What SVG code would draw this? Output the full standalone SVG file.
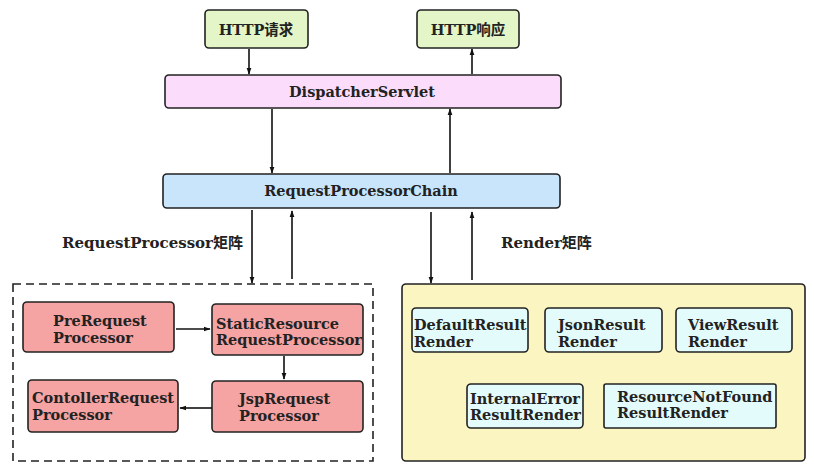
<svg xmlns="http://www.w3.org/2000/svg" width="814" height="468" viewBox="0 0 814 468">
<defs>
<marker id="ah" viewBox="0 0 10 10" refX="9" refY="5" markerWidth="7" markerHeight="7" orient="auto" markerUnits="userSpaceOnUse"><path d="M0,1.5 L10,5 L0,8.5 z" fill="#111"/></marker>
<style>
text{font-family:"DejaVu Serif","Liberation Serif","Noto Sans CJK SC",serif;font-weight:bold;fill:#222;font-size:14.5px}
.lbl{font-size:15px}
.box{stroke:#222;stroke-width:1.6}
.c{text-anchor:middle}
.green{fill:#e4f6c8}
.pink{fill:#fbdcfa}
.blue{fill:#c9e5fb}
.red{fill:#f5a3a3}
.cyan{fill:#e4fbfb}
.conn line{stroke:#111;stroke-width:1.6;marker-end:url(#ah)}
</style>
</defs>
<rect width="814" height="468" fill="#fff"/>
<g id="http-req"><rect class="box green" x="205" y="10" width="103" height="38" rx="4"/><text class="c" x="256" y="35">HTTP请求</text></g>
<g id="http-resp"><rect class="box green" x="417" y="10" width="102" height="38" rx="4"/><text class="c" x="468" y="35">HTTP响应</text></g>
<g id="dispatcher"><rect class="box pink" x="165" y="75" width="396" height="33" rx="4"/><text class="c" x="362" y="97">DispatcherServlet</text></g>
<g id="chain"><rect class="box blue" x="163" y="174" width="397" height="34" rx="4"/><text class="c" x="361" y="196">RequestProcessorChain</text></g>
<g id="label-rp"><text class="lbl" x="62" y="248">RequestProcessor矩阵</text></g>
<g id="label-render"><text class="lbl" x="501" y="248">Render矩阵</text></g>
<g id="processors"><rect x="13" y="284" width="360" height="177" fill="none" stroke="#222" stroke-width="1.6" stroke-dasharray="8,5"/></g>
<g id="pre"><rect class="box red" x="23" y="302" width="151" height="50" rx="4"/><text x="53" y="326">PreRequest</text><text x="53" y="343">Processor</text></g>
<g id="static"><rect class="box red" x="212" y="304" width="151" height="51" rx="4"/><text x="216" y="329">StaticResource</text><text x="216" y="345">RequestProcessor</text></g>
<g id="jsp"><rect class="box red" x="212" y="381" width="151" height="51" rx="4"/><text x="239" y="404">JspRequest</text><text x="239" y="421">Processor</text></g>
<g id="controller"><rect class="box red" x="28" y="380" width="150" height="52" rx="4"/><text x="32" y="403">ContollerRequest</text><text x="32" y="420">Processor</text></g>
<g id="renders"><rect x="402" y="284" width="403" height="177" rx="4" fill="#fbf5c1" stroke="#222" stroke-width="1.6"/></g>
<g id="default"><rect class="box cyan" x="412" y="308" width="116" height="44" rx="4"/><text x="414" y="330">DefaultResult</text><text x="414" y="347">Render</text></g>
<g id="json"><rect class="box cyan" x="545" y="308" width="117" height="44" rx="4"/><text x="558" y="330">JsonResult</text><text x="558" y="347">Render</text></g>
<g id="view"><rect class="box cyan" x="676" y="308" width="116" height="44" rx="4"/><text x="688" y="330">ViewResult</text><text x="688" y="347">Render</text></g>
<g id="internal"><rect class="box cyan" x="467" y="384" width="116" height="44" rx="4"/><text x="470" y="404">InternalError</text><text x="470" y="420">ResultRender</text></g>
<g id="notfound"><rect class="box cyan" x="604" y="384" width="172" height="44" rx="2"/><text x="617" y="402">ResourceNotFound</text><text x="617" y="418">ResultRender</text></g>
<g class="conn" id="connectors">
<line x1="249" y1="49" x2="249" y2="74"/>
<line x1="472" y1="74" x2="472" y2="49"/>
<line x1="272" y1="109" x2="272" y2="173"/>
<line x1="450" y1="173" x2="450" y2="109"/>
<line x1="252" y1="210" x2="252" y2="283"/>
<line x1="292" y1="279" x2="292" y2="211"/>
<line x1="431" y1="212" x2="431" y2="283"/>
<line x1="472" y1="280" x2="472" y2="212"/>
<line x1="176" y1="329" x2="210" y2="329"/>
<line x1="284" y1="356" x2="284" y2="379"/>
<line x1="212" y1="408" x2="180" y2="408"/>
</g>
</svg>
